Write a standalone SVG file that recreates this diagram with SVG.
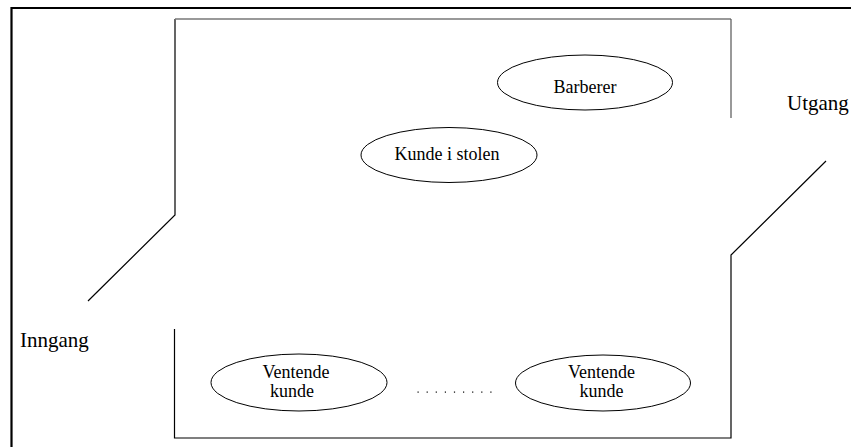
<svg xmlns="http://www.w3.org/2000/svg" width="851" height="447" viewBox="0 0 851 447">
<style>
.node ellipse{fill:#fff;stroke:#000;stroke-width:1}
.lbl{font-family:"Liberation Serif","Times New Roman",serif;font-size:18px;fill:#000;text-anchor:middle}
.big{font-family:"Liberation Serif","Times New Roman",serif;font-size:21px;fill:#000}
.wall{fill:none;stroke:#000;stroke-width:1.2}
</style>
<rect width="851" height="447" fill="#fff"/>
<g id="frame" fill="none" stroke="#000" stroke-width="2.2">
<polyline points="11.5,447 11.5,8 851,8"/>
</g>
<g id="walls">
<polyline class="wall" points="88,301 175,215 175,19"/>
<line x1="175" y1="19" x2="731" y2="19" stroke="#777" stroke-width="1.4"/>
<line x1="731" y1="19" x2="731" y2="118" stroke="#555" stroke-width="1.2"/>
<polyline class="wall" points="826,161 731,255 731,438 174.5,438 174.5,329"/>
</g>
<g id="barberer" class="node">
<ellipse cx="585" cy="82.5" rx="87.5" ry="27.5"/>
<text class="lbl" x="585" y="92.5">Barberer</text>
</g>
<g id="kunde-i-stolen" class="node">
<ellipse cx="449" cy="155" rx="88" ry="27.5"/>
<text class="lbl" x="447" y="159.5">Kunde i stolen</text>
</g>
<g id="ventende-1" class="node">
<ellipse cx="299" cy="382.5" rx="88" ry="28.5"/>
<text class="lbl"><tspan x="296" y="377.5">Ventende</tspan><tspan x="292" y="396.5">kunde</tspan></text>
</g>
<g id="ventende-2" class="node">
<ellipse cx="603" cy="383" rx="87.5" ry="28"/>
<text class="lbl"><tspan x="601.5" y="378">Ventende</tspan><tspan x="601.5" y="397">kunde</tspan></text>
</g>
<g id="dots" fill="#000">
<rect x="417.5" y="391.5" width="1.2" height="1.2"/>
<rect x="426.6" y="391.5" width="1.2" height="1.2"/>
<rect x="435.7" y="391.5" width="1.2" height="1.2"/>
<rect x="444.8" y="391.5" width="1.2" height="1.2"/>
<rect x="453.9" y="391.5" width="1.2" height="1.2"/>
<rect x="463.0" y="391.5" width="1.2" height="1.2"/>
<rect x="472.1" y="391.5" width="1.2" height="1.2"/>
<rect x="481.2" y="391.5" width="1.2" height="1.2"/>
<rect x="490.3" y="391.5" width="1.2" height="1.2"/>
</g>
<g id="inngang">
<text class="big" x="20" y="347">Inngang</text>
</g>
<g id="utgang">
<text class="big" x="787" y="110">Utgang</text>
</g>
<g id="connectors"></g>
</svg>
